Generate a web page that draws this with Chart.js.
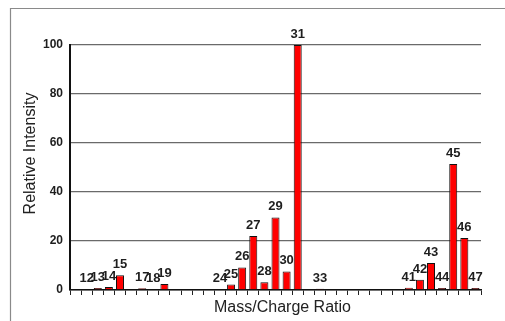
<!DOCTYPE html>
<html>
<head>
<meta charset="utf-8">
<title>Mass Spectrum</title>
<script src="https://cdn.jsdelivr.net/npm/chart.js@4/dist/chart.umd.min.js"></script>
<style>
  html, body { margin: 0; padding: 0; background: #ffffff; }
  #wrap { position: relative; width: 505px; height: 321px; }
</style>
</head>
<body>
<div id="wrap"><canvas id="spectrum" width="505" height="321"></canvas></div>
<script>
// m/z positions on the axis
const mzAxis = [11, 12, 13, 14, 15, 16, 17, 18, 19, 20, 21, 22, 23, 24, 25, 26, 27, 28, 29,
                30, 31, 32, 33, 34, 35, 36, 37, 38, 39, 40, 41, 42, 43, 44, 45, 46, 47];

// observed peaks and their relative intensities (%)
const peakMz        = [12,  13,  14,  15,  17,  18,  19,  24,  25,  26,  27,  28,  29,  30,  31,  33,  41,  42,  43,  44,  45,  46,  47];
const peakIntensity = [0.3, 0.8, 1.2, 6.0, 0.7, 0.3, 2.5, 0.3, 2.2, 9.2, 22.0, 3.2, 29.6, 7.6, 100, 0.5, 0.9, 4.2, 11.0, 0.8, 51.4, 21.2, 0.8];

// y-axis ticks
const intensityTicks = [0, 20, 40, 60, 80, 100];

// axis titles
const xTitle = 'Mass/Charge Ratio';
const yTitle = 'Relative Intensity';

const barValues = mzAxis.map(m => {
  const i = peakMz.indexOf(m);
  return i === -1 ? null : peakIntensity[i];
});

const FONT = "'Liberation Sans', Arial, Helvetica, sans-serif";

// gray frame along the top and left edges
const framePlugin = {
  id: 'frame',
  beforeDraw(chart) {
    const ctx = chart.ctx;
    ctx.save();
    ctx.strokeStyle = '#8a8a8a';
    ctx.lineWidth = 1.2;
    ctx.beginPath();
    ctx.moveTo(10.5, 321);
    ctx.lineTo(10.5, 8.5);
    ctx.lineTo(505, 8.5);
    ctx.stroke();
    ctx.restore();
  }
};

// axis titles, placed relative to the plot area
const axisTitlePlugin = {
  id: 'axisTitles',
  afterDraw(chart) {
    const ctx = chart.ctx;
    const area = chart.chartArea;
    ctx.save();
    ctx.fillStyle = '#222222';
    ctx.font = '16px ' + FONT;
    ctx.textAlign = 'center';
    ctx.textBaseline = 'middle';
    ctx.fillText(xTitle, (area.left + area.right) / 2 + 7, area.bottom + 18);
    ctx.translate(area.left - 39, (area.top + area.bottom) / 2 - 14);
    ctx.rotate(-Math.PI / 2);
    ctx.fillText(yTitle, 0, 0);
    ctx.restore();
  }
};

// m/z number printed above every peak
const peakLabelPlugin = {
  id: 'peakLabels',
  afterDatasetsDraw(chart) {
    const ctx = chart.ctx;
    const meta = chart.getDatasetMeta(0);
    ctx.save();
    ctx.font = 'bold 13px ' + FONT;
    ctx.fillStyle = '#1e1e1e';
    ctx.textAlign = 'center';
    ctx.textBaseline = 'alphabetic';
    meta.data.forEach((bar, i) => {
      if (barValues[i] === null) return;
      ctx.fillText(String(mzAxis[i]), bar.x, bar.y - 7);
    });
    ctx.restore();
  }
};

new Chart(document.getElementById('spectrum'), {
  type: 'bar',
  data: {
    labels: mzAxis.map(String),
    datasets: [{
      data: barValues,
      backgroundColor: '#ff0000',
      borderColor: '#111111',
      borderWidth: 1,
      barPercentage: 0.72,
      categoryPercentage: 1.0
    }]
  },
  options: {
    responsive: false,
    animation: false,
    devicePixelRatio: 1,
    layout: { padding: { top: 45, right: 24, left: 0, bottom: 0 } },
    plugins: {
      legend: { display: false },
      tooltip: { enabled: false }
    },
    scales: {
      x: {
        type: 'category',
        offset: true,
        grid: {
          display: true,
          offset: true,
          drawOnChartArea: false,
          drawTicks: true,
          tickLength: 5,
          color: '#222222',
          lineWidth: 1
        },
        border: { display: true, color: '#111111', width: 1.5 },
        ticks: { display: false },
        title: { display: false },
        afterFit(scale) { scale.height = 31; }
      },
      y: {
        min: 0,
        max: 100,
        afterBuildTicks(scale) {
          scale.ticks = intensityTicks.map(v => ({ value: v }));
        },
        grid: {
          color: '#6a6a6a',
          lineWidth: 1.3,
          drawTicks: false
        },
        border: { display: true, color: '#111111', width: 2 },
        ticks: {
          color: '#1e1e1e',
          padding: 7,
          font: { family: FONT, size: 12, weight: 'bold' }
        },
        title: { display: false },
        afterFit(scale) { scale.width = 70; }
      }
    }
  },
  plugins: [framePlugin, axisTitlePlugin, peakLabelPlugin]
});
</script>
</body>
</html>
